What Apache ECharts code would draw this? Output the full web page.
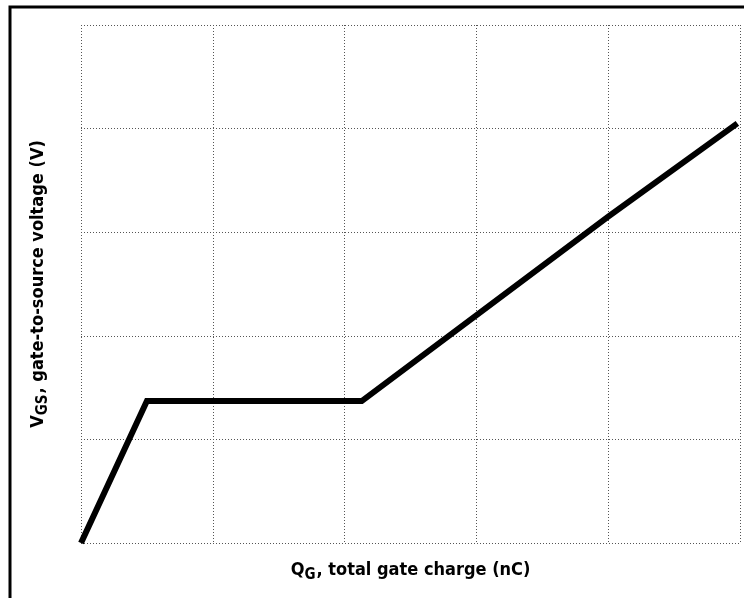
<!DOCTYPE html>
<html>
<head>
<meta charset="utf-8">
<script src="https://cdn.jsdelivr.net/npm/echarts@6/dist/echarts.min.js"></script>
<style>
  html, body { margin: 0; padding: 0; background: #fff; }
  #chart { width: 744px; height: 598px; }
</style>
</head>
<body>
<div id="chart"></div>
<script>
// gate charge curve (grid units, no tick labels shown)
const chargeQ = [0, 0.5, 2.13, 4.0, 4.98];
const voltageV = [0, 1.37, 1.37, 3.15, 4.05];
const gridTicks = [0, 1, 2, 3, 4, 5];

const labelFont = '"DejaVu Sans Condensed", "Liberation Sans Narrow", sans-serif';

const chart = echarts.init(document.getElementById('chart'));

const gridLine = { show: true, lineStyle: { color: '#555', type: [1, 2], width: 1 } };

const nameRich = {
    a: { fontFamily: labelFont, fontWeight: 'bold', fontSize: 18, color: '#000', verticalAlign: 'bottom', lineHeight: 24 },
    b: { fontFamily: labelFont, fontWeight: 'bold', fontSize: 15, color: '#000', verticalAlign: 'bottom', lineHeight: 20, padding: [0, 1, -4, 0] }
};

chart.setOption({
    animation: false,
    backgroundColor: '#fff',
    grid: { left: 81, top: 25, width: 659, height: 518 },
    graphic: [{
        type: 'rect',
        shape: { x: 10, y: 7, width: 800, height: 700 },
        style: { fill: 'none', stroke: '#000', lineWidth: 3 },
        silent: true
    }],
    xAxis: {
        type: 'value',
        min: gridTicks[0],
        max: gridTicks[gridTicks.length - 1],
        interval: 1,
        axisLine: { show: false },
        axisTick: { show: false },
        axisLabel: { show: false },
        splitLine: gridLine,
        name: '{a|Q}{b|G}{a|, total gate charge (nC)}',
        nameLocation: 'middle',
        nameGap: 12,
        nameTextStyle: { rich: nameRich }
    },
    yAxis: {
        type: 'value',
        min: gridTicks[0],
        max: gridTicks[gridTicks.length - 1],
        interval: 1,
        axisLine: { show: false },
        axisTick: { show: false },
        axisLabel: { show: false },
        splitLine: gridLine,
        name: '{a|V}{b|GS}{a|, gate-to-source voltage (V)}',
        nameLocation: 'middle',
        nameGap: 34,
        nameTextStyle: { rich: nameRich }
    },
    series: [{
        type: 'line',
        data: chargeQ.map((q, i) => [q, voltageV[i]]),
        symbol: 'none',
        lineStyle: { color: '#000', width: 6, join: 'miter' },
        silent: true
    }]
});
</script>
</body>
</html>
